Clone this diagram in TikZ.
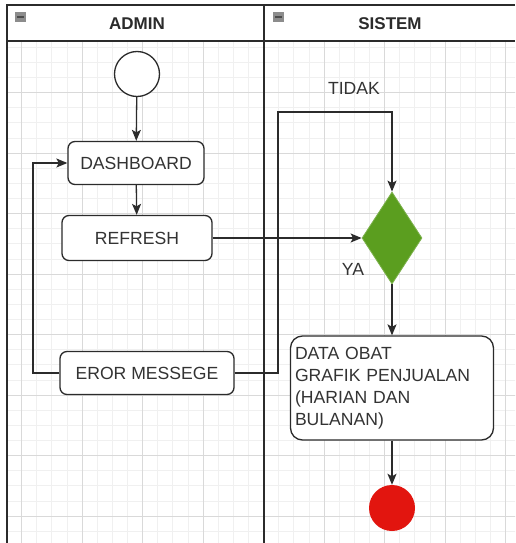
\documentclass[tikz,border=0pt]{standalone}
\usepackage{fontspec}
\setmainfont{Liberation Sans}
\usetikzlibrary{shapes.geometric,arrows.meta}
\definecolor{ink}{HTML}{2B2B2B}
\definecolor{txt}{HTML}{333333}
\definecolor{decgreen}{HTML}{5B9E1F}
\definecolor{endred}{HTML}{E2150F}
\begin{document}
\begin{tikzpicture}[x=1pt,y=-1pt,
  lane/.style={draw=ink, line width=1.6pt},
  minorgrid/.style={draw=black!6, line width=0.7pt},
  majorgrid/.style={draw=black!15, line width=0.9pt},
  act/.style={draw=ink, line width=1.3pt, rounded corners=7pt, fill=white,
    font=\fontsize{17.6}{22}\selectfont, text=txt, inner sep=0pt},
  flow/.style={draw=ink, line width=1.3pt,
    -{Stealth[length=11pt,width=9pt,inset=2.5pt]}},
  lbl/.style={font=\fontsize{17.6}{20}\selectfont, text=txt},
  head/.style={font=\bfseries\fontsize{17}{20}\selectfont, text=ink},
]
\useasboundingbox (0,0) rectangle (515,543);
\fill[white] (0,0) rectangle (515,543);

% background grid of the lanes
\begin{scope}
  \clip (7,41) rectangle (515,543);
  \foreach \k in {-1,...,33} {\draw[minorgrid] ({21.5+\k*15.125},41) -- ++(0,510);}
  \foreach \k in {0,...,34} {\draw[minorgrid] (0,{32+\k*15.125}) -- ++(520,0);}
  \foreach \k in {0,...,8} {\draw[majorgrid] ({21.5+\k*60.5},41) -- ++(0,510);}
  \foreach \k in {1,...,8} {\draw[majorgrid] (0,{32+\k*60.5}) -- ++(520,0);}
\end{scope}

% swimlanes
\draw[lane] (7,543) -- (7,5) -- (515,5);
\draw[lane] (7,41) -- (515,41);
\draw[lane] (264,5) -- (264,543);
\foreach \xx in {15,273} {
  \fill[black!45] (\xx,12) rectangle ++(11,10);
  \draw[black!70, line width=1.4pt] (\xx+2,17) -- ++(7,0);
}
\node[head] (hadmin) at (137,24) {ADMIN};
\node[head] (hsistem) at (390,24) {SISTEM};

% nodes
\node[circle, draw=ink, line width=1.3pt, fill=white, minimum size=45pt, inner sep=0pt] (start) at (137,74) {};
\node[act, minimum width=136pt, minimum height=43pt] (dash) at (136,163) {DASHBOARD};
\node[act, minimum width=150pt, minimum height=45pt] (ref) at (137,238) {REFRESH};
\node[act, minimum width=174pt, minimum height=43pt] (err) at (147,373) {EROR MESSEGE};
\node[diamond, fill=decgreen, draw=decgreen!80!white, line width=0.8pt,
  minimum width=60pt, minimum height=92pt, inner sep=0pt] (dec) at (392,238) {};
\node[act, rounded corners=12pt, minimum width=203pt, minimum height=104pt,
  text width=194pt, align=left, inner xsep=4.5pt] (data) at (392,388)
  {DATA OBAT\\GRAFIK PENJUALAN\\(HARIAN DAN\\BULANAN)};
\node[circle, fill=endred, minimum size=46pt, inner sep=0pt] (end) at (392,508) {};

% connectors
\coordinate (loopL) at (33,373);
\coordinate (loopR) at (278,112);
\draw[flow] (start) -- (dash);
\draw[flow] (dash) -- (ref);
\draw[flow] (ref.east) -- (dec.west);
\draw[flow] (dec.south) -- (data.north);
\draw[flow] (data.south) -- (end.north);
\draw[flow] (err.west) -- (loopL) |- (dash.west);
\draw[flow] (err.east) -| (loopR) -| (dec.north);

% guard labels
\node[lbl] (tidak) at (354,88) {TIDAK};
\node[lbl] (ya) at (353,269) {YA};
\end{tikzpicture}
\end{document}
